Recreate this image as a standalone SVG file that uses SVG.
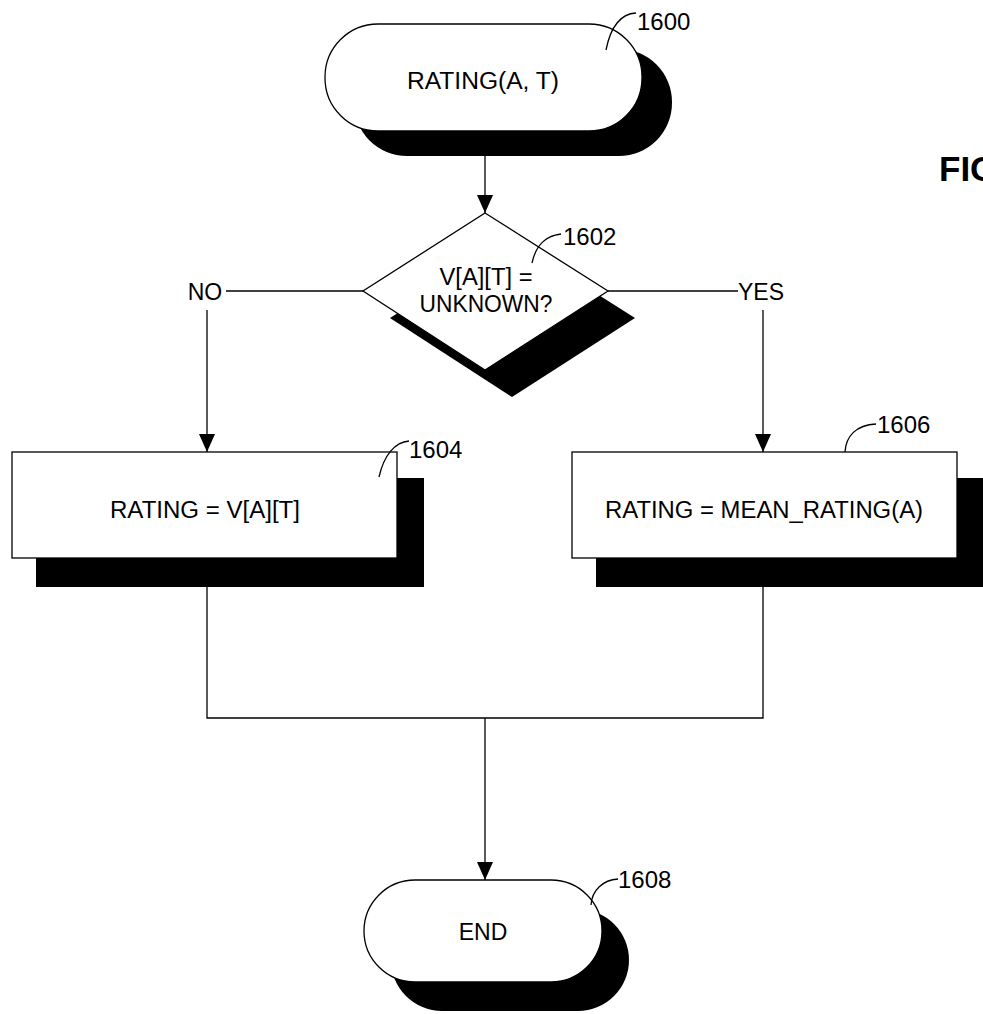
<svg xmlns="http://www.w3.org/2000/svg" width="983" height="1014" viewBox="0 0 983 1014">
<defs>
<marker id="ah" markerUnits="userSpaceOnUse" markerWidth="18" markerHeight="16" refX="18" refY="8" orient="auto" viewBox="0 0 18 16">
<path d="M0,0 L18,8 L0,16 Z" fill="#000"/>
</marker>
</defs>
<style>
.shape{fill:#fff;stroke:#000;stroke-width:1.3}
.shadow{fill:#000;stroke:none}
.t{font-family:"Liberation Sans",Arial,sans-serif;font-size:23px;fill:#000;text-anchor:middle}
.lbl{font-family:"Liberation Sans",Arial,sans-serif;font-size:24px;fill:#000}
.lead{fill:none;stroke:#000;stroke-width:1.3}
.c{fill:none;stroke:#000;stroke-width:1.3}
</style>
<rect width="983" height="1014" fill="#fff"/>
<text x="939" y="181" font-family="Liberation Sans,Arial,sans-serif" font-size="35" font-weight="bold">FIG</text>
<g id="connectors">
<path class="c" d="M485,155 V213" marker-end="url(#ah)"/>
<path class="c" d="M363,291 H226"/>
<path class="c" d="M608,291 H738"/>
<path class="c" d="M207,310 V452" marker-end="url(#ah)"/>
<path class="c" d="M763,310 V452" marker-end="url(#ah)"/>
<path class="c" d="M207,587 V718 H763 V587"/>
<path class="c" d="M485,718 V880" marker-end="url(#ah)"/>
<text class="t" x="205" y="300" font-size="22">NO</text>
<text class="t" x="761" y="300" font-size="21">YES</text>
</g>
<g id="n1600">
<rect class="shadow" x="354" y="49" width="318" height="107" rx="53"/>
<rect class="shape" x="325" y="24" width="317" height="107" rx="53"/>
<text class="t" x="483" y="89" textLength="152" lengthAdjust="spacingAndGlyphs">RATING(A, T)</text>
<path class="lead" d="M606,50 C610,30 618,14 636,13"/>
<text class="lbl" x="637" y="30">1600</text>
</g>
<g id="n1602">
<polygon class="shadow" points="512,240 635,318 512,397 390,318"/>
<polygon class="shape" points="485,213 608,291 485,370 363,291"/>
<text class="t" x="486" y="285" font-size="20" textLength="93" lengthAdjust="spacingAndGlyphs">V[A][T] =</text>
<text class="t" x="486" y="312" font-size="20" textLength="133" lengthAdjust="spacingAndGlyphs">UNKNOWN?</text>
<path class="lead" d="M532,263 C536,245 545,236 561,234"/>
<text class="lbl" x="563" y="245">1602</text>
</g>
<g id="n1604">
<rect class="shadow" x="36" y="478" width="388" height="109"/>
<rect class="shape" x="12" y="452" width="385" height="106"/>
<text class="t" x="205" y="518" textLength="190" lengthAdjust="spacingAndGlyphs">RATING = V[A][T]</text>
<path class="lead" d="M379,477 C384,455 395,442 409,441"/>
<text class="lbl" x="409" y="458">1604</text>
</g>
<g id="n1606">
<rect class="shadow" x="596" y="478" width="400" height="109"/>
<rect class="shape" x="572" y="452" width="385" height="106"/>
<text class="t" x="764" y="518" textLength="318" lengthAdjust="spacingAndGlyphs">RATING = MEAN_RATING(A)</text>
<path class="lead" d="M845,452 C846,436 856,425 876,424"/>
<text class="lbl" x="877" y="433">1606</text>
</g>
<g id="n1608">
<rect class="shadow" x="391" y="909" width="238" height="102" rx="51"/>
<rect class="shape" x="364" y="880" width="238" height="102" rx="51"/>
<text class="t" x="483" y="940" font-size="23">END</text>
<path class="lead" d="M591,905 C592,890 603,880 618,879"/>
<text class="lbl" x="618" y="888">1608</text>
</g>
</svg>
